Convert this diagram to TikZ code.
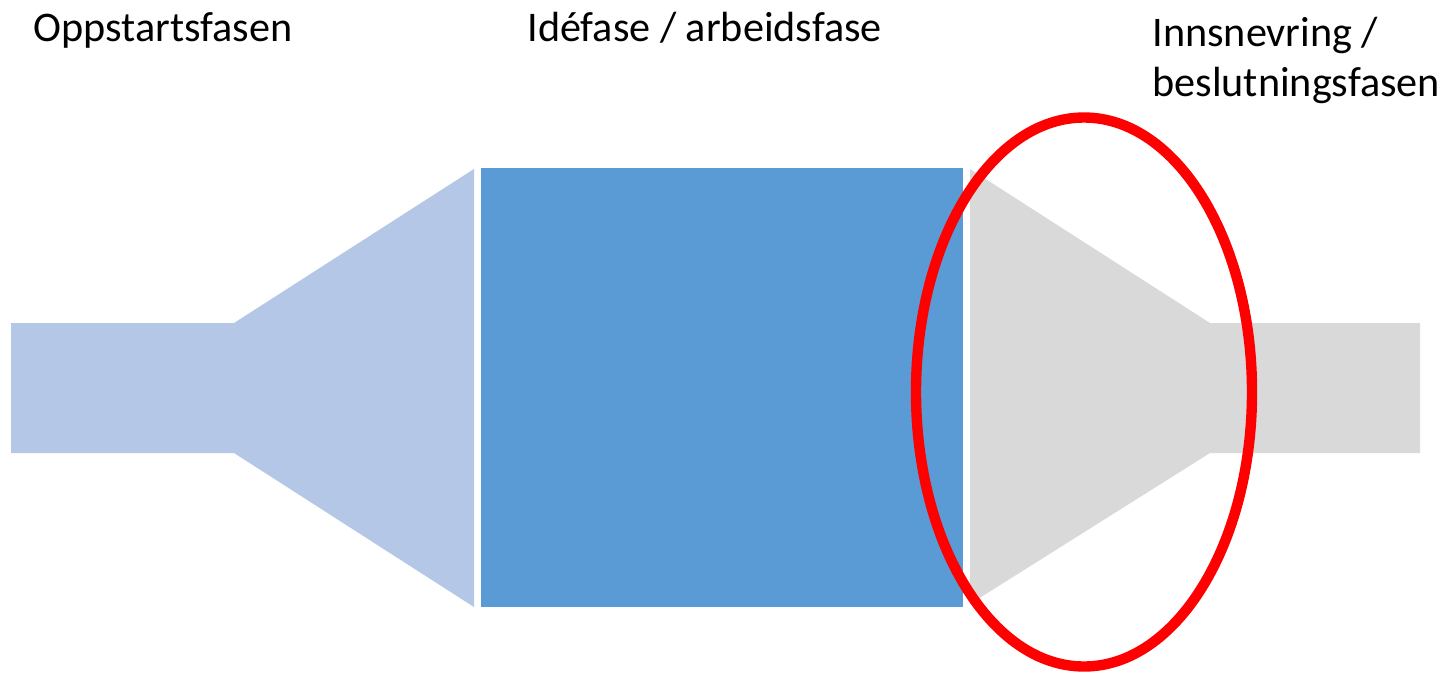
\documentclass[tikz,border=0pt]{standalone}
\usepackage{fontspec}
\setmainfont{Carlito}
\definecolor{lightblue}{HTML}{B4C7E7}
\definecolor{midblue}{HTML}{5B9BD5}
\definecolor{lightgrey}{HTML}{D9D9D9}
\definecolor{ringred}{HTML}{FF0000}
\begin{document}
\begin{tikzpicture}[x=0.5pt,y=-0.5pt,
  label/.style={anchor=base west,inner sep=0pt,font=\fontsize{21.1}{25}\selectfont},
  ring/.style={draw=ringred,line width=5.2pt}]
\useasboundingbox (0,0) rectangle (1445,681);
% left funnel
\fill[lightblue] (11,323) -- (234,323) -- (474,169) -- (474,607) -- (234,453) -- (11,453) -- cycle;
% middle block
\fill[midblue] (481,168) rectangle (963,607);
% right funnel
\fill[lightgrey] (970,169) -- (1210,323) -- (1420,323) -- (1420,453) -- (1210,453) -- (970,604) -- cycle;
% ellipse
\draw[ring] (1084,392) ellipse [x radius=168, y radius=274.5];
% labels
\node[label] (t1) at (33,41) {Oppstartsfasen};
\node[label] (t2) at (527,41) {Idéfase / arbeidsfase};
\node[label] (t3) at (1152,46) {Innsnevring /};
\node[label] (t4) at (1152,96) {beslutningsfasen};
\end{tikzpicture}
\end{document}
